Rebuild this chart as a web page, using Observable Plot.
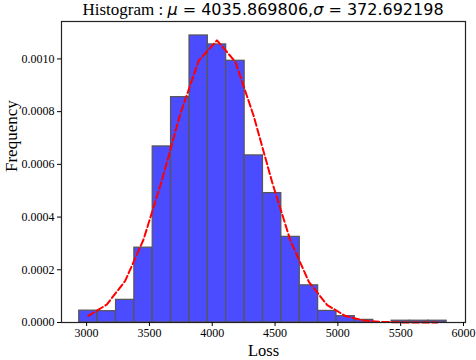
<!DOCTYPE html>
<html>
<head>
<meta charset="utf-8">
<script src="https://cdn.jsdelivr.net/npm/d3@7"></script>
<script src="https://cdn.jsdelivr.net/npm/@observablehq/plot@0.6"></script>
<style>
  html, body { margin: 0; padding: 0; background: #fff; }
  #chart { width: 476px; height: 360px; }
</style>
</head>
<body>
<div id="chart"></div>
<script>
// Histogram bin edges (Loss)
const binEdges = [2941, 3087, 3234, 3380, 3526, 3672, 3819, 3965, 4111, 4258, 4404,
                  4550, 4697, 4843, 4989, 5135, 5282, 5428, 5574, 5720, 5866];
// Bar heights (density)
const densities = [0.000045, 0.000043, 0.000086, 0.000284, 0.000668, 0.000855, 0.001089,
                   0.001055, 0.000993, 0.000634, 0.000491, 0.000325, 0.000141, 0.000044,
                   0.000024, 0.000010, 0.0, 0.0000068, 0.0000068, 0.0000068];
// Fitted normal curve sampled at bin centers
const curveX = [3014, 3160, 3307, 3453, 3599, 3745, 3892, 4038, 4184, 4330,
                4477, 4623, 4769, 4915, 5062, 5208, 5354, 5500, 5647, 5793];
const curveY = [0.0000250, 0.0000679, 0.0001578, 0.0003150, 0.0005387, 0.0007901, 0.0009932,
                0.0010704, 0.0009890, 0.0007834, 0.0005319, 0.0003096, 0.0001545, 0.0000661,
                0.0000243, 0.0000076, 0.0000021, 0.0000005, 0.0000001, 0.0000000];
const xTicks = [3000, 3500, 4000, 4500, 5000, 5500, 6000];
const yTicks = [0, 0.0002, 0.0004, 0.0006, 0.0008, 0.0010];
const titleText = "Histogram : ";
const muLabel = "\u03bc";
const sigmaLabel = "\u03c3";
const muValue = "4035.869806";
const sigmaValue = "372.692198";
const xLabel = "Loss";
const yLabel = "Frequency";

const bars = densities.map((d, i) => ({x1: binEdges[i], x2: binEdges[i + 1], y: d}));
const curve = curveX.map((x, i) => ({x, y: curveY[i]}));

const serif = "'Liberation Serif', 'Times New Roman', serif";

const plot = Plot.plot({
  width: 476,
  height: 360,
  marginLeft: 61,
  marginRight: 11,
  marginTop: 21,
  marginBottom: 38,
  style: {fontFamily: serif, fontSize: "12px", color: "#000", background: "#fff"},
  x: {domain: [2800, 6016]},
  y: {domain: [0, 0.001142]},
  marks: [
    Plot.rectY(bars, {x1: "x1", x2: "x2", y: "y", fill: "#4b4bff", stroke: "#555", strokeWidth: 1.2, inset: 0}),
    Plot.line(curve, {x: "x", y: "y", stroke: "#ff0000", strokeWidth: 2, strokeDasharray: "7,3"}),
    Plot.frame({stroke: "#222", strokeWidth: 1.2}),
    Plot.axisX({ticks: xTicks, tickSize: 4, tickPadding: 2, tickFormat: d3.format("d"), label: null, fontSize: 12}),
    Plot.axisY({ticks: yTicks, tickSize: 4, tickPadding: 3, tickFormat: d3.format(".4f"), label: null, fontSize: 12}),
    Plot.text([xLabel], {frameAnchor: "bottom", text: d => d, dy: 28, lineAnchor: "middle", fontSize: 16.5, fontFamily: serif}),
    Plot.text([yLabel], {frameAnchor: "left", text: d => d, dx: -50, rotate: -90, fontSize: 17, fontFamily: serif})
  ]
});

// Title with mixed fonts (serif prefix, math part in DejaVu Sans)
const svg = d3.select(plot);
const t = svg.append("text")
  .attr("x", 263)
  .attr("y", 15)
  .attr("text-anchor", "middle")
  .attr("font-size", 16)
  .attr("fill", "#000");
t.append("tspan").attr("font-family", serif).attr("font-size", 17).text(titleText);
const math = "'DejaVu Sans', sans-serif";
t.append("tspan").attr("font-family", math).attr("font-style", "italic").text(muLabel);
t.append("tspan").attr("font-family", math).text(" = " + muValue + ",");
t.append("tspan").attr("font-family", math).attr("font-style", "italic").text(sigmaLabel);
t.append("tspan").attr("font-family", math).text(" = " + sigmaValue);

document.getElementById("chart").appendChild(plot);
</script>
</body>
</html>
